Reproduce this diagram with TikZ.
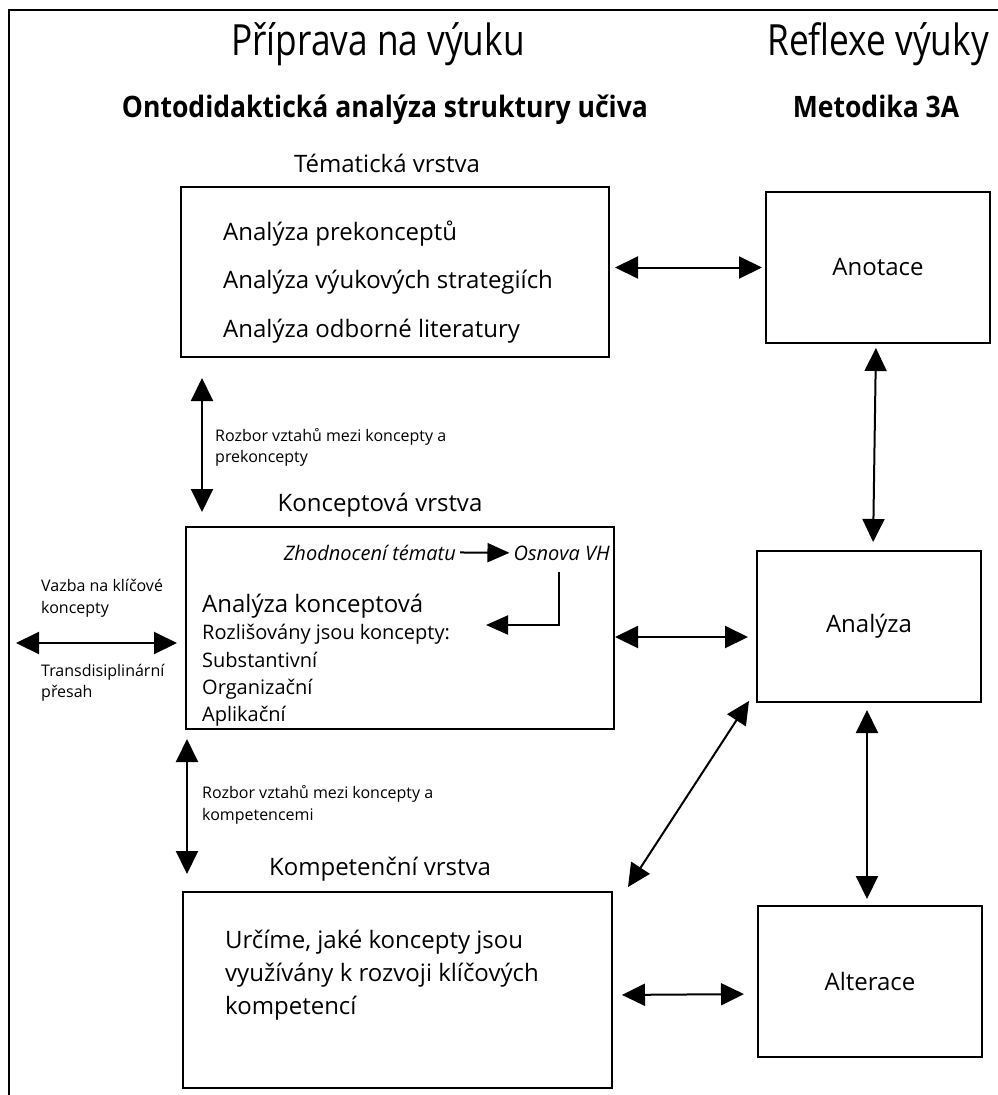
\documentclass[tikz,border=0pt]{standalone}
\usepackage{fontspec}
\setmainfont{Open Sans}
\newfontfamily\condfont[FakeStretch=0.82]{Open Sans}
\newfontfamily\condbold[FakeStretch=0.9]{Open Sans}
\usetikzlibrary{arrows.meta}
\begin{document}
\begin{tikzpicture}[x=1pt,y=-1pt,
  box/.style={draw, line width=2pt, inner sep=0pt, font=\fontsize{24}{29}\selectfont},
  darr/.style={line width=2pt, {Triangle[length=23pt,width=22pt]}-{Triangle[length=23pt,width=22pt]}},
  sarr/.style={line width=2pt, -{Triangle[length=22pt,width=19pt]}},
  lbl/.style={inner sep=0pt, anchor=base west},
  clbl/.style={inner sep=0pt, anchor=base},
  big/.style={font=\fontsize{24}{29}\selectfont},
  mid/.style={font=\fontsize{20}{24}\selectfont},
  midit/.style={font=\fontsize{20}{24}\selectfont\itshape},
  small/.style={font=\fontsize{16}{20}\selectfont},
  title/.style={inner sep=0pt, anchor=base, font=\condfont\fontsize{43}{50}\selectfont},
  head/.style={inner sep=0pt, anchor=base, font=\condbold\bfseries\fontsize{29.5}{34}\selectfont}]
\useasboundingbox (0,0) rectangle (998,1095);
% outer frame (top and left only)
\draw[line width=2.2pt] (9,1095) -- (9,10) -- (998,10);
% titles
\node[title] (t1) at (378,55) {Příprava na výuku};
\node[title] (t2) at (878,55) {Reflexe výuky};
\node[head] (h1) at (385,117) {Ontodidaktická analýza struktury učiva};
\node[head] (h2) at (876,117) {Metodika 3A};
% boxes
\node[box, minimum width=428pt, minimum height=170pt] (tema) at (395,272) {};
\node[box, minimum width=224pt, minimum height=151pt] (anot) at (878,267.5) {Anotace};
\node[box, minimum width=428pt, minimum height=202pt] (konc) at (400,628) {};
\node[box, minimum width=224pt, minimum height=151pt] (anal) at (869,626.5) {Analýza};
\node[box, minimum width=429pt, minimum height=196pt] (komp) at (397.5,990) {};
\node[box, minimum width=224pt, minimum height=151pt] (alt) at (870,981.5) {Alterace};
% layer labels
\node[clbl, big] (lt) at (387,172) {Tématická vrstva};
\node[clbl, big] (lk) at (380,511) {Konceptová vrstva};
\node[clbl, big] (lc) at (380,875) {Kompetenční vrstva};
% tematicka items
\node[lbl, big] (ti1) at (223,240) {Analýza prekonceptů};
\node[lbl, big] (ti2) at (223,288) {Analýza výukových strategiích};
\node[lbl, big] (ti3) at (223,337) {Analýza odborné literatury};
% konceptova contents
\node[inner sep=0pt, anchor=base east, midit] (zh) at (456,560) {Zhodnocení tématu};
\node[inner sep=0pt, anchor=base east, midit] (os) at (610,560) {Osnova VH};
\node[lbl, big] (ak) at (202,612) {Analýza konceptová};
\node[lbl, mid] (k1) at (202,639) {Rozlišovány jsou koncepty:};
\node[lbl, mid] (k2) at (202,667) {Substantivní};
\node[lbl, mid] (k3) at (202,694) {Organizační};
\node[lbl, mid] (k4) at (202,721) {Aplikační};
% kompetencni contents
\node[lbl, big] (c1) at (225,948) {Určíme, jaké koncepty jsou};
\node[lbl, big] (c2) at (225,981) {využívány k rozvoji klíčových};
\node[lbl, big] (c3) at (225,1014) {kompetencí};
% small labels
\node[lbl, small] (r1) at (215,441) {Rozbor vztahů mezi koncepty a};
\node[lbl, small] (r2) at (215,462) {prekoncepty};
\node[lbl, small] (r3) at (202,798) {Rozbor vztahů mezi koncepty a};
\node[lbl, small] (r4) at (202,820) {kompetencemi};
\node[lbl, small] (v1) at (41,591) {Vazba na klíčové};
\node[lbl, small] (v2) at (41,613) {koncepty};
\node[lbl, small] (v3) at (41,676) {Transdisiplinární};
\node[lbl, small] (v4) at (41,697) {přesah};
% connectors
\draw[darr, shorten <=5pt, shorten >=3pt] (tema.east |- anot.west) -- (anot.west);
\draw[darr, shorten <=4pt, shorten >=8pt] ([xshift=-2pt]anot.south) -- ([xshift=4pt]anal.north);
\draw[darr, shorten >=8pt] ([yshift=-9pt]konc.east) -- ([yshift=-10.5pt]anal.west);
\draw[darr] ([shift={(-7,-2)}]anal.south west) -- ([shift={(15,-4)}]komp.north east);
\draw[darr, shorten <=7pt, shorten >=6pt] ([xshift=-2pt]anal.south) -- ([xshift=-3pt]alt.north);
\draw[darr, shorten <=9pt, shorten >=13pt] ([yshift=-5pt]komp.east) -- ([yshift=-12.5pt]alt.west);
\draw[darr, shorten <=20pt, shorten >=14pt] ([xshift=22pt]tema.south west) -- ([xshift=17pt]konc.north west);
\draw[darr, shorten <=9pt, shorten >=17pt] ([xshift=2pt]konc.south west) -- ([xshift=5pt]komp.north west);
\coordinate (lend) at (16,643);
\draw[darr, shorten >=8pt] (lend) -- (lend -| konc.west);
\draw[sarr, shorten <=4pt, shorten >=4pt] (zh.east) -- (os.west);
\coordinate (b1) at (559,572);
\coordinate (b2) at (486,625);
\draw[sarr] (b1) |- (b2);
\end{tikzpicture}
\end{document}
